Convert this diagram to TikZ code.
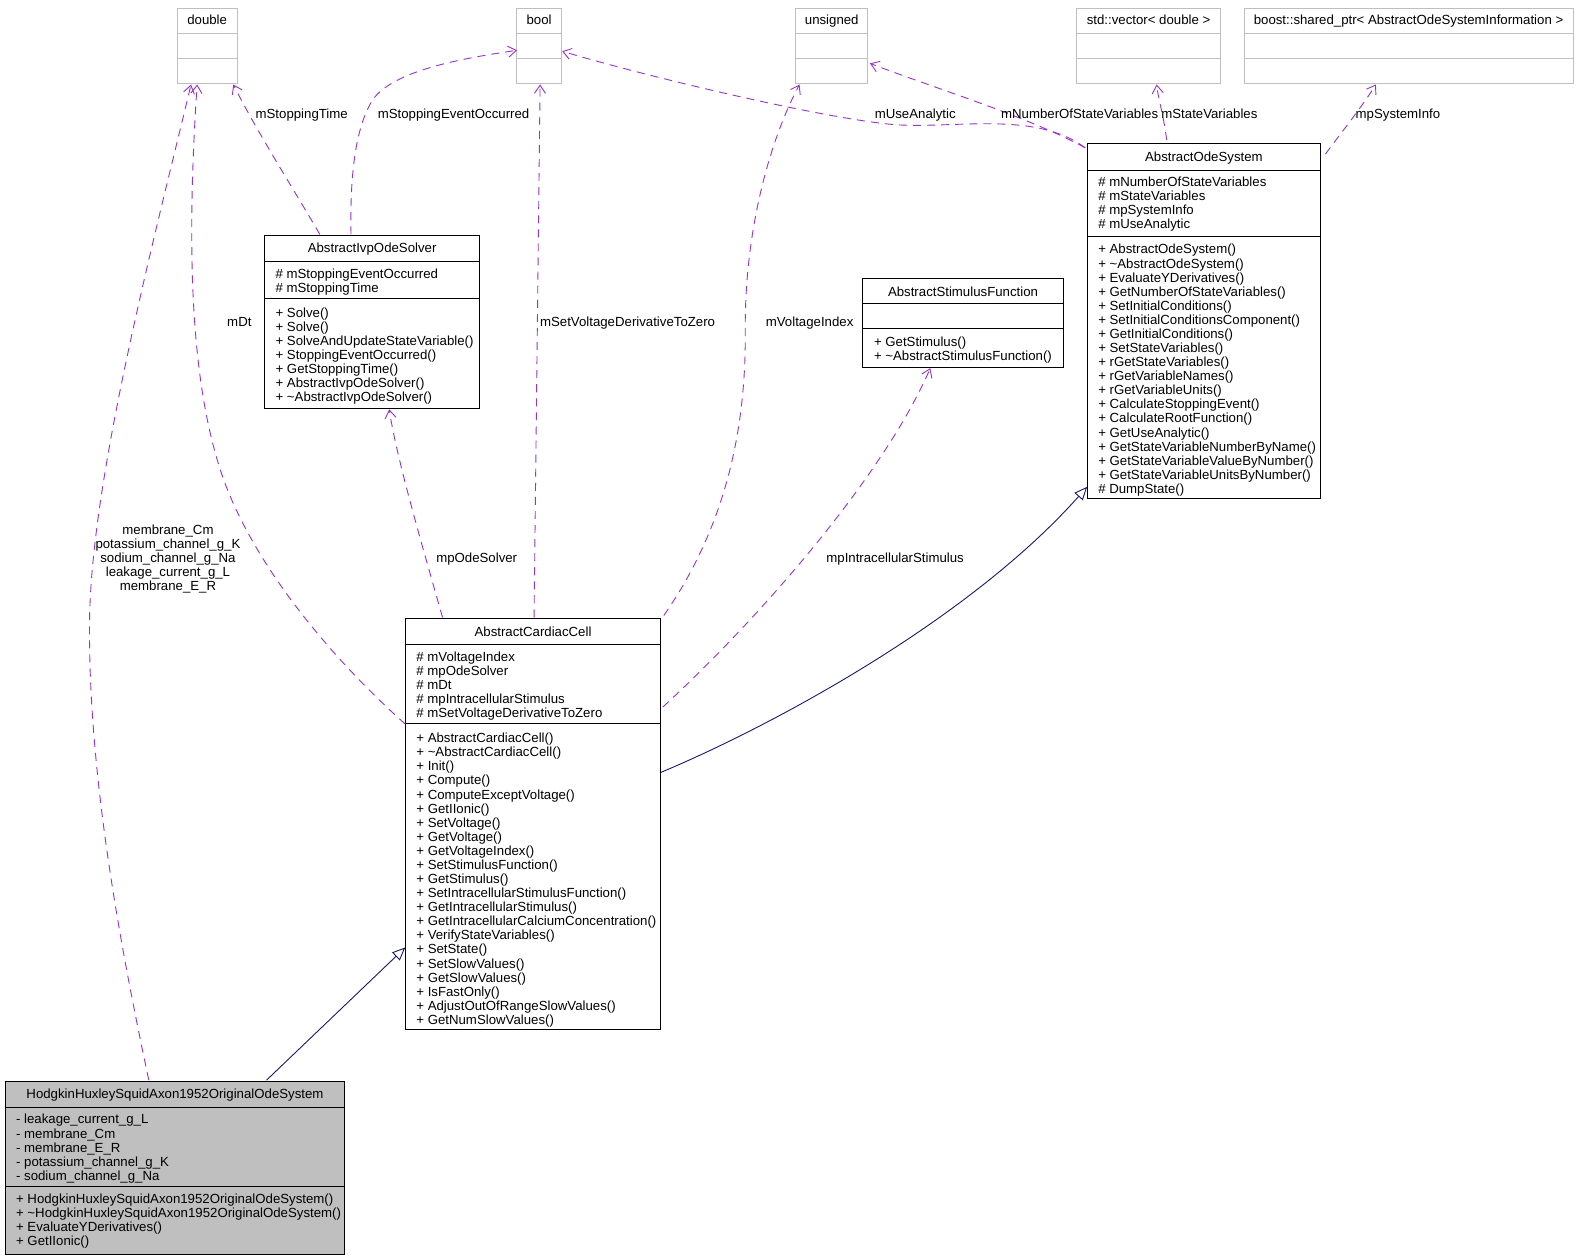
\documentclass[tikz,border=0pt]{standalone}
\usepackage{fontspec}
\setmainfont{Liberation Sans}
\usetikzlibrary{arrows.meta,calc}
\definecolor{depc}{HTML}{9A32CD}
\definecolor{inhc}{HTML}{191970}
\definecolor{greyb}{HTML}{BFBFBF}
\tikzset{
 txt/.style={inner sep=0pt, outer sep=0pt, font=\fontsize{13.2}{14}\selectfont, text=black},
 classbox/.style={draw=black, line width=1bp, inner sep=0pt, outer sep=0pt, fill=white},
 typebox/.style={draw=greyb, line width=1bp, inner sep=0pt, outer sep=0pt, fill=white},
 sepline/.style={draw=black, line width=1bp},
 typesep/.style={draw=greyb, line width=1bp},
 dep/.style={draw=depc, line width=0.9bp, dash pattern=on 8bp off 6bp, -{Straight Barb[length=8bp,width=11bp]}},
 inh/.style={draw=inhc, line width=0.9bp, -{Triangle[open,length=13bp,width=11bp,fill=white]}},
}
\newcommand\classlines[4]{\foreach \cl [count=\k from 0] in {#4}{\node[txt, anchor=base west] (#1\k) at (#2,#3+14*\k) {\cl};}}
\newcommand\mktype[4]{%
 \node[typebox, anchor=north west, minimum width=#3bp, minimum height=75bp] (#1) at (#2,8) {};
 \draw[typesep] ($(#1.north west)+(0,25)$) -- ($(#1.north east)+(0,25)$);
 \draw[typesep] ($(#1.north west)+(0,50)$) -- ($(#1.north east)+(0,50)$);
 \node[txt, anchor=base] (#1-t) at ($(#1.north)+(0,16.5)$) {#4};}
\newcommand\mkclass[8][]{%
 \node[classbox, #1, anchor=north west, minimum width=#5bp, minimum height=#6bp] (#2) at (#3,#4) {};
 \draw[sepline] ($(#2.north west)+(0,#7)$) -- ($(#2.north east)+(0,#7)$);
 \draw[sepline] ($(#2.north west)+(0,#8)$) -- ($(#2.north east)+(0,#8)$);}
\begin{document}
\begin{tikzpicture}[x=1bp,y=-1bp]
\fill[white] (0,0) rectangle (1568,1252);
\useasboundingbox (0,0) rectangle (1568,1252);

% type boxes
\mktype{double}{176}{60}{double}
\mktype{bool}{514}{44}{bool}
\mktype{unsigned}{791}{72}{unsigned}
\mktype{stdvec}{1070}{144}{std::vector< double >}
\mktype{boost}{1237}{327}{boost::shared\_ptr< AbstractOdeSystemInformation >}

% AbstractOdeSystem
\mkclass{aos}{1081}{143}{232}{353}{27}{92}
\node[txt, anchor=base] (aos-t) at ($(aos.north)+(0,18)$) {AbstractOdeSystem};
\classlines{aosA}{1092}{185.5}{\# mNumberOfStateVariables, \# mStateVariables, \# mpSystemInfo, \# mUseAnalytic}
\classlines{aosO}{1092}{252.5}{+ AbstractOdeSystem(), + \textasciitilde{}AbstractOdeSystem(), + EvaluateYDerivatives(), + GetNumberOfStateVariables(), + SetInitialConditions(), + SetInitialConditionsComponent(), + GetInitialConditions(), + SetStateVariables(), + rGetStateVariables(), + rGetVariableNames(), + rGetVariableUnits(), + CalculateStoppingEvent(), + CalculateRootFunction(), + GetUseAnalytic(), + GetStateVariableNumberByName(), + GetStateVariableValueByNumber(), + GetStateVariableUnitsByNumber(), \# DumpState()}

% AbstractIvpOdeSolver
\mkclass{ivp}{263}{234}{214}{172}{26}{63}
\node[txt, anchor=base] (ivp-t) at ($(ivp.north)+(0,17.5)$) {AbstractIvpOdeSolver};
\classlines{ivpA}{274}{276.5}{\# mStoppingEventOccurred, \# mStoppingTime}
\classlines{ivpO}{274}{315.5}{+ Solve(), + Solve(), + SolveAndUpdateStateVariable(), + StoppingEventOccurred(), + GetStoppingTime(), + AbstractIvpOdeSolver(), + \textasciitilde{}AbstractIvpOdeSolver()}

% AbstractStimulusFunction
\mkclass{asf}{858}{277}{199}{88}{25}{50}
\node[txt, anchor=base] (asf-t) at ($(asf.north)+(0,17.5)$) {AbstractStimulusFunction};
\classlines{asfO}{869}{344.5}{+ GetStimulus(), + \textasciitilde{}AbstractStimulusFunction()}

% AbstractCardiacCell
\mkclass{acc}{403}{615}{254}{409}{26}{104}
\node[txt, anchor=base] (acc-t) at ($(acc.north)+(0,17.5)$) {AbstractCardiacCell};
\classlines{accA}{414}{657.5}{\# mVoltageIndex, \# mpOdeSolver, \# mDt, \# mpIntracellularStimulus, \# mSetVoltageDerivativeToZero}
\classlines{accO}{414}{738.5}{+ AbstractCardiacCell(), + \textasciitilde{}AbstractCardiacCell(), + Init(), + Compute(), + ComputeExceptVoltage(), + GetIIonic(), + SetVoltage(), + GetVoltage(), + GetVoltageIndex(), + SetStimulusFunction(), + GetStimulus(), + SetIntracellularStimulusFunction(), + GetIntracellularStimulus(), + GetIntracellularCalciumConcentration(), + VerifyStateVariables(), + SetState(), + SetSlowValues(), + GetSlowValues(), + IsFastOnly(), + AdjustOutOfRangeSlowValues(), + GetNumSlowValues()}

% HodgkinHuxley
\mkclass[fill=greyb]{hh}{5}{1075}{338}{172}{26}{105}
\node[txt, anchor=base] (hh-t) at ($(hh.north)+(0,17.5)$) {HodgkinHuxleySquidAxon1952OriginalOdeSystem};
\classlines{hhA}{16}{1117.5}{- leakage\_current\_g\_L, - membrane\_Cm, - membrane\_E\_R, - potassium\_channel\_g\_K, - sodium\_channel\_g\_Na}
\classlines{hhO}{16}{1196.5}{+ HodgkinHuxleySquidAxon1952OriginalOdeSystem(), + \textasciitilde{}HodgkinHuxleySquidAxon1952OriginalOdeSystem(), + EvaluateYDerivatives(), + GetIIonic()}

% dependency edges
\draw[dep] ($(hh.north west)+(143,-1)$) .. controls (115,920) and (88,760) .. (89,620) .. controls (90,480) and (150,250) .. ($(double.south west)+(14,1)$);
\draw[dep] ($(acc.north west)+(0,105)$) .. controls (330,655) and (250,560) .. (220,470) .. controls (190,380) and (185,250) .. ($(double.south west)+(20,1)$);
\draw[dep] ($(ivp.north west)+(55,-1)$) .. controls (290,185) and (255,130) .. ($(double.south east)+(-4,1)$);
\draw[dep] ($(ivp.north west)+(86,-1)$) .. controls (348,180) and (352,130) .. (370,100) .. controls (390,70) and (460,58) .. ($(bool.north west)+(0,42)$);
\draw[dep] ($(acc.north west)+(128,-1)$) -- ($(bool.south west)+(23,1)$);
\draw[dep] ($(acc.north east)+(3,-3)$) .. controls (710,540) and (742,450) .. (741,330) .. controls (740,220) and (770,130) .. ($(unsigned.south west)+(4,1)$);
\draw[dep] ($(acc.north east)+(2,88)$) .. controls (760,610) and (880,470) .. ($(asf.south west)+(67,1)$);
\draw[dep] ($(acc.north west)+(37,-1)$) .. controls (425,560) and (395,460) .. ($(ivp.south west)+(124,1)$);
\draw[dep] ($(aos.north west)+(-2,4)$) .. controls (1020,115) and (930,88) .. ($(unsigned.north east)+(2,55)$);
\draw[dep] ($(aos.north west)+(-2,4)$) .. controls (1030,110) and (950,128) .. (890,124) .. controls (820,118) and (650,78) .. ($(bool.north east)+(1,43)$);
\draw[dep] ($(aos.north west)+(79,-4)$) .. controls (1157,115) and (1152,100) .. ($(stdvec.south west)+(80,1)$);
\draw[dep] ($(aos.north east)+(5,10)$) .. controls (1335,130) and (1355,105) .. ($(boost.south west)+(131,1)$);

% inheritance edges
\draw[inh] ($(acc.north east)+(0,153)$) .. controls (760,725) and (960,620) .. ($(aos.south west)+(0,-12)$);
\draw[inh] ($(hh.north west)+(260,-1)$) -- ($(acc.north west)+(0,327)$);

% edge labels
\node[txt, anchor=base] (l-stime) at (300,117.5) {mStoppingTime};
\node[txt, anchor=base] (l-sevent) at (451,117.5) {mStoppingEventOccurred};
\node[txt, anchor=base] (l-use) at (910,117.5) {mUseAnalytic};
\node[txt, anchor=base] (l-nsv) at (1073.5,117.5) {mNumberOfStateVariables};
\node[txt, anchor=base] (l-sv) at (1202.5,117.5) {mStateVariables};
\node[txt, anchor=base] (l-si) at (1390,117.5) {mpSystemInfo};
\node[txt, anchor=base] (l-dt) at (238,324.5) {mDt};
\node[txt, anchor=base] (l-svd) at (624,324.5) {mSetVoltageDerivativeToZero};
\node[txt, anchor=base] (l-vi) at (805,324.5) {mVoltageIndex};
\node[txt, anchor=base] (l-ode) at (474,559.5) {mpOdeSolver};
\node[txt, anchor=base] (l-istim) at (890,559.5) {mpIntracellularStimulus};
\foreach \cl [count=\k from 0] in {membrane\_Cm, potassium\_channel\_g\_K, sodium\_channel\_g\_Na, leakage\_current\_g\_L, membrane\_E\_R}
  {\node[txt, anchor=base] (l-hh\k) at (167,531.5+14*\k) {\cl};}
\end{tikzpicture}
\end{document}
